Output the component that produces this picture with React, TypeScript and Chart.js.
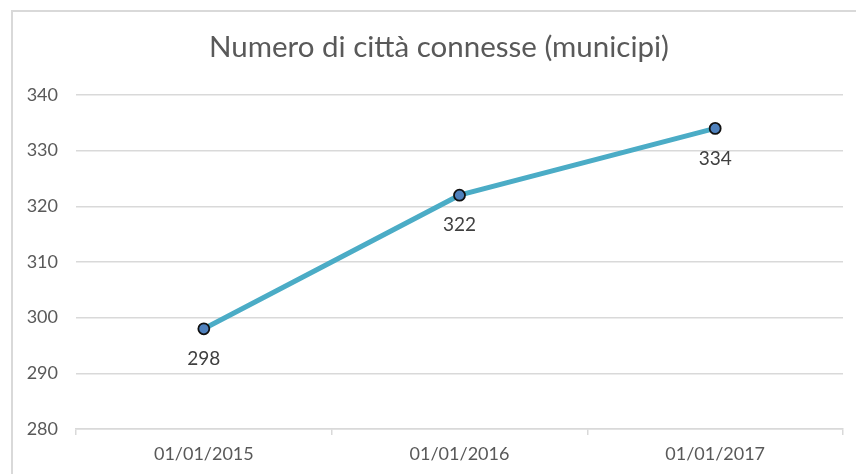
import React, { useEffect, useRef } from "react";
import Chart from "chart.js/auto";

// Dates of the yearly snapshots and the number of connected towns
const dates = ["01/01/2015", "01/01/2016", "01/01/2017"];
const towns = [298, 322, 334];
const yTicks = { min: 280, max: 340, step: 10 };
const titleText = "Numero di città connesse (municipi)";

const FONT = "Lato, 'Open Sans', sans-serif";

// Writes each point's value just below its marker
const valueLabels = {
  id: "valueLabels",
  afterDatasetsDraw(chart: any) {
    const { ctx } = chart;
    const meta = chart.getDatasetMeta(0);
    const data = chart.data.datasets[0].data as number[];
    ctx.save();
    ctx.font = `19px ${FONT}`;
    ctx.fillStyle = "#404040";
    ctx.textAlign = "center";
    ctx.textBaseline = "middle";
    meta.data.forEach((pt: any, i: number) => {
      ctx.fillText(String(data[i]), pt.x, pt.y + 30);
    });
    ctx.restore();
  },
};

// Centred heading above the plot, over the framed area
const heading = {
  id: "heading",
  afterDraw(chart: any) {
    const { ctx } = chart;
    ctx.save();
    ctx.font = `29.5px ${FONT}`;
    ctx.fillStyle = "#595959";
    ctx.textAlign = "center";
    ctx.textBaseline = "middle";
    ctx.fillText(titleText, 439, 47);
    ctx.restore();
  },
};

export default function App() {
  const ref = useRef<HTMLCanvasElement>(null);

  useEffect(() => {
    if (!ref.current) return;
    const chart = new Chart(ref.current, {
      type: "line",
      data: {
        labels: dates,
        datasets: [
          {
            data: towns,
            borderColor: "#4BACC6",
            borderWidth: 5,
            pointRadius: 5.5,
            pointBackgroundColor: "#4F81BD",
            pointBorderColor: "#111111",
            pointBorderWidth: 1.8,
            tension: 0,
          },
        ],
      },
      options: {
        responsive: false,
        animation: false,
        layout: { padding: { top: 95, right: 13, bottom: 0, left: 0 } },
        plugins: {
          legend: { display: false },
          tooltip: { enabled: false },
          title: { display: false },
        },
        scales: {
          x: {
            offset: true,
            afterFit: (s: any) => {
              s.height = 45;
            },
            grid: {
              offset: true,
              drawOnChartArea: false,
              drawTicks: true,
              tickLength: 6,
              color: "#d9d9d9",
              lineWidth: 1.5,
            },
            border: { display: true, color: "#d9d9d9", width: 1.5 },
            ticks: {
              color: "#595959",
              font: { family: FONT, size: 18 },
              padding: 8,
              maxRotation: 0,
            },
          },
          y: {
            min: yTicks.min,
            max: yTicks.max,
            afterFit: (s: any) => {
              s.width = 76;
            },
            grid: { color: "#d9d9d9", lineWidth: 1.5, drawTicks: false },
            border: { display: false },
            ticks: {
              stepSize: yTicks.step,
              color: "#595959",
              font: { family: FONT, size: 18 },
              padding: 18,
            },
          },
        },
      },
      plugins: [valueLabels, heading],
    });
    return () => chart.destroy();
  }, []);

  return (
    <div
      style={{
        position: "fixed",
        left: 0,
        top: 0,
        width: 856,
        height: 474,
        background: "#ffffff",
        overflow: "hidden",
      }}
    >
      <div
        style={{
          position: "absolute",
          left: 11,
          top: 10,
          width: 900,
          height: 500,
          borderLeft: "2px solid #d9d9d9",
          borderTop: "2px solid #d9d9d9",
        }}
      />
      <canvas
        ref={ref}
        width={856}
        height={474}
        style={{ position: "absolute", left: 0, top: 0 }}
      />
    </div>
  );
}
